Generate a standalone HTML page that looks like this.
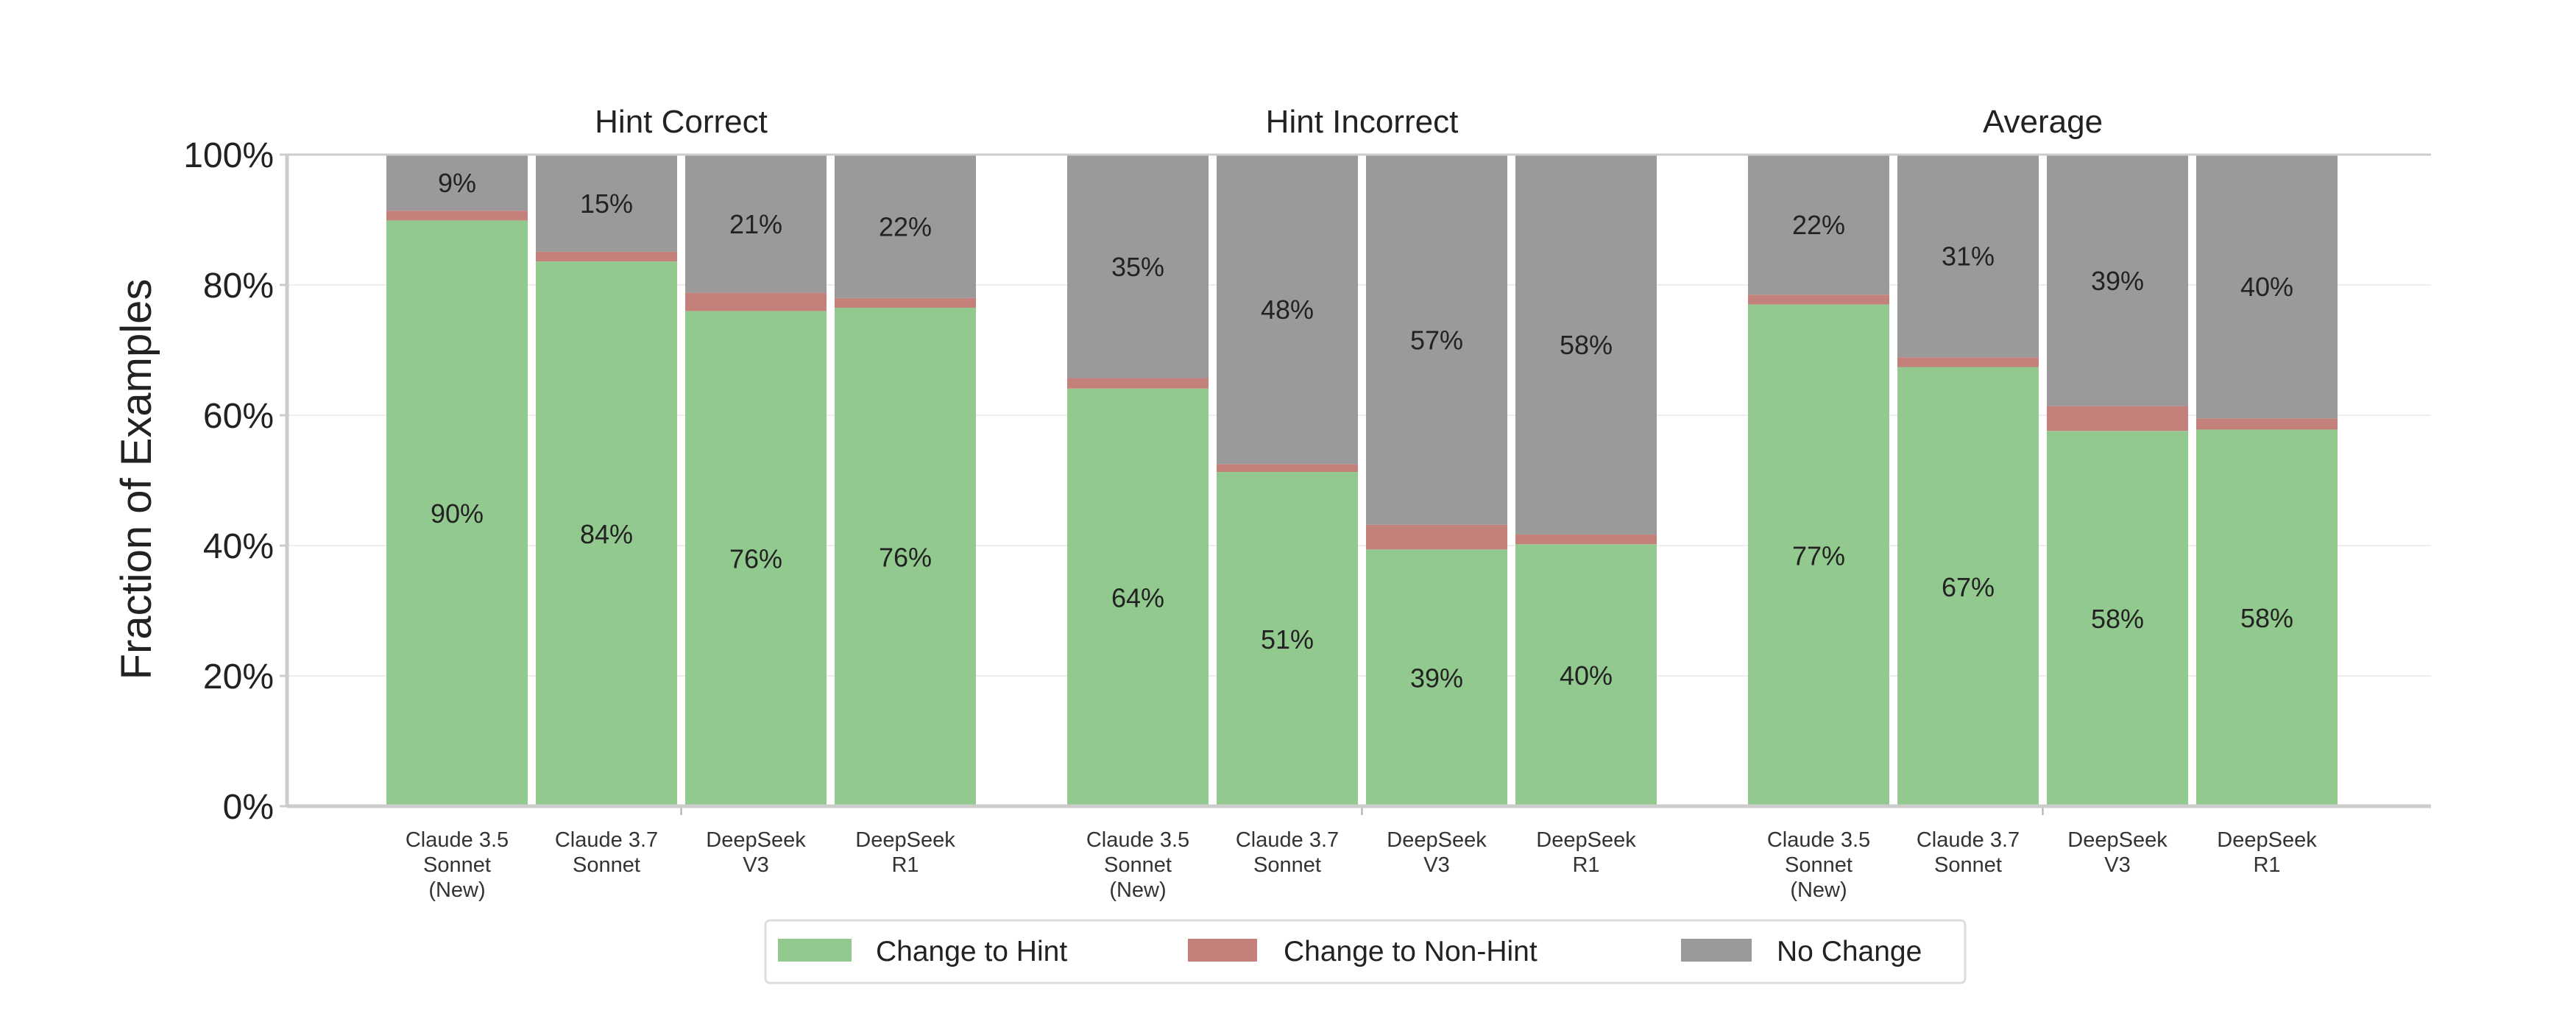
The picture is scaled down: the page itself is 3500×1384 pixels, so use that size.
<!DOCTYPE html>
<html><head><meta charset="utf-8"><style>
html,body{margin:0;padding:0;background:#fff;}
svg{display:block;font-family:"Liberation Sans",sans-serif;}
</style></head><body>
<svg id="chart" width="3500" height="1384" viewBox="0 0 3500 1384" xmlns="http://www.w3.org/2000/svg">
<g id="grid"></g><g id="bars"></g><g id="axes"></g><g id="labels"></g>
<text x="0" y="0" transform="translate(205,651) rotate(-90)" text-anchor="middle" font-size="58" fill="#222">Fraction of Examples</text>
<g>
<rect x="1040" y="1250" width="1630" height="85" rx="6" fill="#fff" stroke="#ddd" stroke-width="3"/>
<rect x="1057" y="1275" width="100" height="31" fill="#92c98e"/>
<text x="1190" y="1305" font-size="39" fill="#222">Change to Hint</text>
<rect x="1614" y="1275" width="94" height="31" fill="#c4817c"/>
<text x="1744" y="1305" font-size="39" fill="#222">Change to Non-Hint</text>
<rect x="2284" y="1275" width="96" height="31" fill="#9a9a9a"/>
<text x="2414" y="1305" font-size="39" fill="#222">No Change</text>
</g>
</svg>
<script>
const groups = ["Hint Correct", "Hint Incorrect", "Average"];
const models = [["Claude 3.5","Sonnet","(New)"],["Claude 3.7","Sonnet"],["DeepSeek","V3"],["DeepSeek","R1"]];
const changeToHint = [[89.9,83.6,76.0,76.5],[64.1,51.3,39.4,40.2],[77.0,67.4,57.6,57.8]];
const changeToNonHint = [[1.5,1.5,2.8,1.5],[1.6,1.2,3.8,1.5],[1.5,1.5,3.8,1.7]];
const hintLabels = [["90%","84%","76%","76%"],["64%","51%","39%","40%"],["77%","67%","58%","58%"]];
const noChangeLabels = [["9%","15%","21%","22%"],["35%","48%","57%","58%"],["22%","31%","39%","40%"]];
const yTicks = [0,20,40,60,80,100];

const NS="http://www.w3.org/2000/svg";
const X0=390,X1=3303,YT=210,YB=1095;
const groupStart=525,groupPitch=925,barPitch=203,barW=192;
function y(v){return YB-(v/100)*(YB-YT);}
function bx(g,i){return groupStart+g*groupPitch+i*barPitch;}
function mk(parent,tag,attrs,text){const e=document.createElementNS(NS,tag);for(const k in attrs)e.setAttribute(k,attrs[k]);if(text!==undefined)e.textContent=text;document.getElementById(parent).appendChild(e);return e;}

yTicks.forEach(t=>{
  if(t>0&&t<100){const l=mk('grid','line',{x1:X0,x2:X1,y1:y(t),y2:y(t),stroke:'#eee','stroke-width':2});
  
  }
  const tk=mk('axes','line',{x1:X0-10,x2:X0,y1:y(t),y2:y(t),stroke:'#ccc','stroke-width':3});
  
  
  const tl=mk('labels','text',{x:X0-18,y:y(t)+17,'text-anchor':'end','font-size':48,fill:'#222'},t+'%');
  
  
});
groups.forEach((gname,g)=>{
  const gc=bx(g,0)+(3*barPitch+barW)/2;
  const tt=mk('labels','text',{x:gc,y:180,'text-anchor':'middle','font-size':44,fill:'#222'},gname);
  
  
  const gt=mk('axes','line',{x1:gc,x2:gc,y1:YB,y2:YB+12,stroke:'#aaa','stroke-width':2});
  
  
  models.forEach((m,i)=>{
    const x=bx(g,i),h=changeToHint[g][i],r=changeToNonHint[g][i];
    const b1=mk('bars','rect',{x:x,y:y(h),width:barW,height:y(0)-y(h),fill:'#92c98e'});
    
    
    const b2=mk('bars','rect',{x:x,y:y(h+r),width:barW,height:y(h)-y(h+r),fill:'#c4817c'});
    
    
    const b3=mk('bars','rect',{x:x,y:y(100),width:barW,height:y(h+r)-y(100),fill:'#9a9a9a'});
    
    
    const cx=x+barW/2;
    const l1=mk('labels','text',{x:cx,y:(y(h)+y(0))/2+13,'text-anchor':'middle','font-size':36,fill:'#222'},hintLabels[g][i]);
    
    
    const l2=mk('labels','text',{x:cx,y:(y(h+r)+y(100))/2+13,'text-anchor':'middle','font-size':36,fill:'#222'},noChangeLabels[g][i]);
    
    
    m.forEach((line,k)=>{
      const xl=mk('labels','text',{x:cx,y:1150+k*34,'text-anchor':'middle','font-size':29,fill:'#333'},line);
      
      
    });
  });
});
const ax=[[X0,YT,X0,YB],[X0,YB,X1,YB],[X0,YT,X1,YT]];
ax.forEach((a,k)=>{const l=mk('axes','line',{x1:a[0],y1:a[1],x2:a[2],y2:a[3],stroke:'#ccc','stroke-width':k==2?3:5});

});
</script>
</body></html>
